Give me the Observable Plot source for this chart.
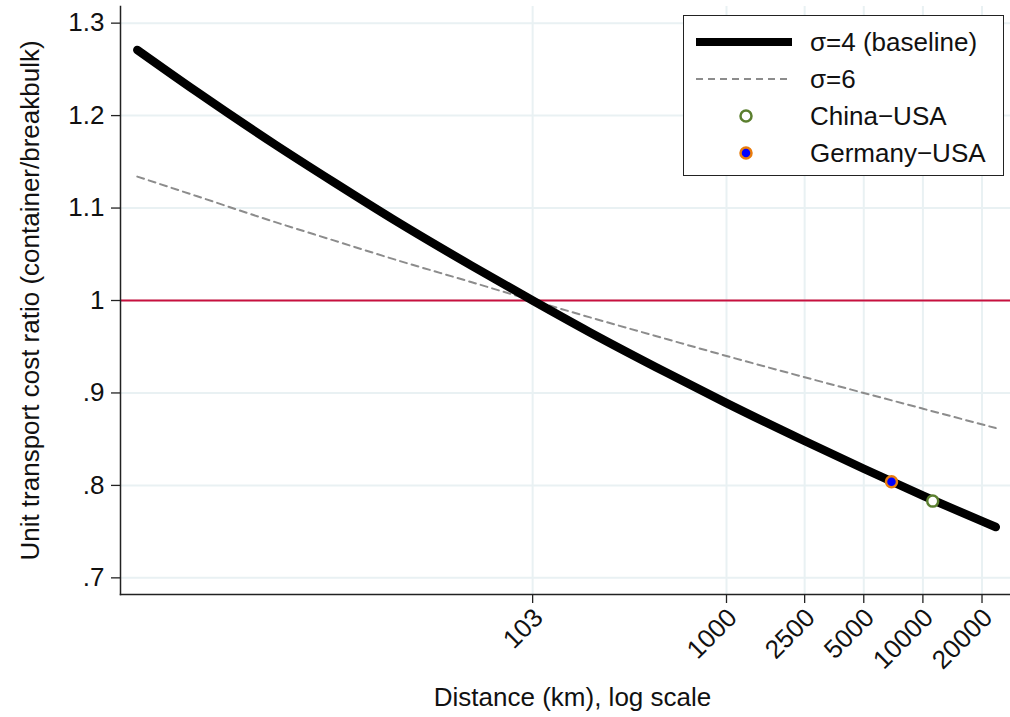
<!DOCTYPE html>
<html>
<head>
<meta charset="utf-8">
<script src="https://cdn.jsdelivr.net/npm/d3@7"></script>
<script src="https://cdn.jsdelivr.net/npm/@observablehq/plot@0.6"></script>
<style>
  html, body { margin: 0; padding: 0; background: #fff; }
  #wrap { position: relative; width: 1010px; height: 717px; font-family: "Liberation Sans", Arial, Helvetica, sans-serif; }
  #legend { position: absolute; left: 683px; top: 15px; width: 319px; height: 159px; border: 1.5px solid #222; background: #fff; }
  #legend .row { position: absolute; left: 0; height: 36px; width: 100%; }
  #legend svg { position: absolute; left: 10px; top: 0; }
  #legend span { position: absolute; left: 126px; top: 50%; transform: translateY(-50%); font-size: 26px; color: #111; white-space: nowrap; }
</style>
</head>
<body>
<div id="wrap"></div>
<script>
// ---- data ----
const distances = [1, 2, 5, 10, 20, 50, 103, 200, 500, 1000, 2500, 5000, 10000, 23500];
const sigma4 = [1.271, 1.226, 1.169, 1.128, 1.088, 1.038, 1.000, 0.966, 0.9215, 0.889, 0.848, 0.818, 0.789, 0.755];
const sigma6 = [1.134, 1.113, 1.085, 1.065, 1.045, 1.020, 1.000, 0.982, 0.958, 0.940, 0.917, 0.900, 0.883, 0.862];
const pairNames = ["China\u2212USA", "Germany\u2212USA"];
const pairDistances = [11220, 6920];
const pairRatios = [0.783, 0.804];
const xTicks = [103, 1000, 2500, 5000, 10000, 20000];
const xTickLabels = ["103", "1000", "2500", "5000", "10000", "20000"];
const yTicks = [0.7, 0.8, 0.9, 1.0, 1.1, 1.2, 1.3];
const yTickLabels = [".7", ".8", ".9", "1", "1.1", "1.2", "1.3"];
const seriesNames = ["\u03c3=4 (baseline)", "\u03c3=6"];
const xLabel = "Distance (km), log scale";
const yLabel = "Unit transport cost ratio (container/breakbulk)";
const refValue = [1];

const s4 = distances.map((d, i) => ({d, v: sigma4[i]}));
const s6 = distances.map((d, i) => ({d, v: sigma6[i]}));
const pairs = pairNames.map((n, i) => ({n, d: pairDistances[i], v: pairRatios[i]}));

const gridColor = "#e9f1f3";
const font = "\"Liberation Sans\", Arial, Helvetica, sans-serif";

const chart = Plot.plot({
  width: 1010,
  height: 717,
  marginLeft: 120,
  marginRight: 0,
  marginTop: 6,
  marginBottom: 123,
  style: {fontFamily: font, fontSize: "26px", color: "#111", background: "#fff"},
  x: {type: "log", domain: [0.821, 27930]},
  y: {domain: [0.682, 1.318]},
  marks: [
    Plot.ruleY(yTicks, {stroke: gridColor, strokeWidth: 2}),
    Plot.ruleX(xTicks, {stroke: gridColor, strokeWidth: 2}),
    Plot.ruleY(refValue, {stroke: "#c8103e", strokeWidth: 2}),
    Plot.line(s6, {x: "d", y: "v", stroke: "#8c8c8c", strokeWidth: 2, strokeDasharray: "7,5", curve: "monotone-x"}),
    Plot.line(s4, {x: "d", y: "v", stroke: "#000", strokeWidth: 8.5, strokeLinecap: "round", strokeLinejoin: "round", curve: "monotone-x"}),
    Plot.dot(pairs.filter(p => p.n.startsWith("China")), {x: "d", y: "v", r: 5.5, fill: "#fff", stroke: "#5b7f2f", strokeWidth: 2.5}),
    Plot.dot(pairs.filter(p => p.n.startsWith("Germany")), {x: "d", y: "v", r: 5.5, fill: "#0000ff", stroke: "#e97c0c", strokeWidth: 2.5}),
    Plot.axisY({ticks: yTicks, tickFormat: d => yTickLabels[yTicks.findIndex(t => Math.abs(t - d) < 1e-9)], tickSize: 9, tickPadding: 7, label: null, stroke: "#222", strokeWidth: 1.3, fill: "#111"}),
    Plot.axisX({ticks: xTicks, tickFormat: () => "", tickSize: 9, label: null, stroke: "#222", strokeWidth: 1.3}),
    Plot.text(xTicks, {x: d => d, frameAnchor: "bottom", text: d => xTickLabels[xTicks.indexOf(d)], rotate: -45, textAnchor: "end", lineAnchor: "middle", dx: 6, dy: 19, fill: "#111", fontSize: 26}),
    Plot.frame({anchor: "left", stroke: "#222", strokeWidth: 1.5}),
    Plot.frame({anchor: "bottom", stroke: "#222", strokeWidth: 1.5}),
    Plot.text([yLabel], {frameAnchor: "left", dx: -90, rotate: -90, lineAnchor: "middle", textAnchor: "middle", fill: "#111", fontSize: 26}),
    Plot.text([xLabel], {frameAnchor: "bottom", dx: 7, dy: 103, lineAnchor: "middle", textAnchor: "middle", fill: "#111", fontSize: 26})
  ]
});

const wrap = document.getElementById("wrap");
wrap.appendChild(chart);

// legend overlay
const legend = document.createElement("div");
legend.id = "legend";
const rows = [
  {label: seriesNames[0], svg: '<line x1="2" x2="98" y1="18" y2="18" stroke="#000" stroke-width="8"/>'},
  {label: seriesNames[1], svg: '<line x1="2" x2="98" y1="18" y2="18" stroke="#8c8c8c" stroke-width="2" stroke-dasharray="7,5"/>'},
  {label: pairNames[0], svg: '<circle cx="52" cy="18" r="5.5" fill="#fff" stroke="#5b7f2f" stroke-width="2.5"/>'},
  {label: pairNames[1], svg: '<circle cx="52" cy="18" r="5.5" fill="#0000ff" stroke="#e97c0c" stroke-width="2.5"/>'}
];
rows.forEach((r, i) => {
  const row = document.createElement("div");
  row.className = "row";
  row.style.top = (8 + i * 37) + "px";
  row.innerHTML = `<svg width="100" height="36">${r.svg}</svg><span>${r.label}</span>`;
  legend.appendChild(row);
});
wrap.appendChild(legend);
</script>
</body>
</html>
